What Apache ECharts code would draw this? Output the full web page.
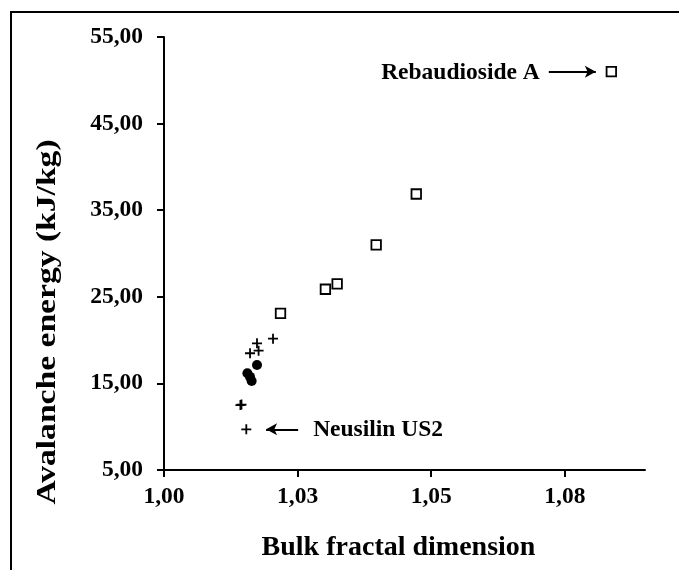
<!DOCTYPE html>
<html>
<head>
<meta charset="utf-8">
<script src="https://cdn.jsdelivr.net/npm/echarts@6/dist/echarts.min.js"></script>
<style>
  html, body { margin: 0; padding: 0; background: #fff; }
  #chart { width: 679px; height: 570px; }
</style>
</head>
<body>
<div id="chart"></div>
<script>
// Open squares: bulk fractal dimension vs avalanche energy
const squareX = [1.0837, 1.0472, 1.0397, 1.0324, 1.0302, 1.0218];
const squareY = [51.0, 36.87, 31.0, 26.5, 25.87, 23.09];

// Plus markers
const plusX = [1.0204, 1.0174, 1.0177, 1.0161, 1.0143, 1.0145, 1.0154];
const plusY = [20.16, 19.63, 18.78, 18.48, 12.50, 12.55, 9.70];

// Filled circles
const circleX = [1.0174, 1.0156, 1.0161, 1.0164];
const circleY = [17.12, 16.17, 15.75, 15.28];

// Axis tick values and their printed labels
const xTickValues = [1.0, 1.025, 1.05, 1.075];
const xTickLabels = ['1,00', '1,03', '1,05', '1,08'];

// Axis titles
const xTitle = 'Bulk fractal dimension';
const yTitle = 'Avalanche energy (kJ/kg)';

// Callouts: label, arrow tail [x, y], arrow head [x, y]
const calloutRebA = { text: 'Rebaudioside A', tail: [1.0720, 51.0], head: [1.0808, 51.0] };
const calloutNeus = { text: 'Neusilin US2', tail: [1.0251, 9.70], head: [1.0191, 9.70] };

const zip = (xs, ys) => xs.map((x, i) => [x, ys[i]]);
const FONT = '"Liberation Serif", "Times New Roman", serif';

const chart = echarts.init(document.getElementById('chart'), null, { renderer: 'canvas' });

const arrowLine = (c) => [
  { coord: c.tail, symbol: 'none' },
  { coord: c.head, symbol: 'arrow' }
];

chart.setOption({
  backgroundColor: '#fff',
  animation: false,
  grid: { left: 164, top: 37, right: 34, bottom: 100 },
  xAxis: {
    type: 'value',
    min: 1.0,
    max: 1.09,
    splitLine: { show: false },
    axisLine: { lineStyle: { color: '#000', width: 2 } },
    axisTick: { customValues: xTickValues, length: 7, lineStyle: { color: '#000', width: 2 } },
    axisLabel: {
      customValues: xTickValues,
      margin: 15,
      color: '#000',
      fontFamily: FONT,
      fontWeight: 'bold',
      fontSize: 23.5,
      formatter: (v) => {
        const i = xTickValues.findIndex(t => Math.abs(t - v) < 1e-6);
        return i >= 0 ? xTickLabels[i] : '';
      }
    },
    name: xTitle,
    nameLocation: 'middle',
    nameGap: 64,
    nameTextStyle: { color: '#000', fontFamily: FONT, fontWeight: 'bold', fontSize: 28, padding: [0, 12, 0, 0] }
  },
  yAxis: {
    type: 'value',
    min: 5,
    max: 55,
    interval: 10,
    splitLine: { show: false },
    axisLine: { show: true, lineStyle: { color: '#000', width: 2 } },
    axisTick: { show: true, length: 7, lineStyle: { color: '#000', width: 2 } },
    axisLabel: {
      margin: 21,
      color: '#000',
      fontFamily: FONT,
      fontWeight: 'bold',
      fontSize: 23.5,
      formatter: (v) => v.toFixed(2).replace('.', ',')
    }
  },
  series: [
    {
      name: 'squares',
      type: 'scatter',
      data: zip(squareX, squareY),
      symbol: 'rect',
      symbolSize: 9.5,
      itemStyle: { color: '#fff', borderColor: '#000', borderWidth: 1.8, opacity: 1 },
      markLine: {
        silent: true,
        symbolSize: [9, 11],
        lineStyle: { color: '#000', width: 2, type: 'solid' },
        label: { show: false },
        data: [arrowLine(calloutRebA)]
      }
    },
    {
      name: 'plus',
      type: 'scatter',
      data: zip(plusX, plusY),
      symbol: 'path://M4.1,0H5.9V4.1H10V5.9H5.9V10H4.1V5.9H0V4.1H4.1Z',
      symbolSize: 10,
      itemStyle: { color: '#000', opacity: 1 },
      markLine: {
        silent: true,
        symbolSize: [9, 11],
        lineStyle: { color: '#000', width: 2, type: 'solid' },
        label: { show: false },
        data: [arrowLine(calloutNeus)]
      }
    },
    {
      name: 'circles',
      type: 'scatter',
      data: zip(circleX, circleY),
      symbol: 'circle',
      symbolSize: 10,
      itemStyle: { color: '#000', opacity: 1 }
    }
  ]
});

// Frame, vertical title and callout labels (placed through the chart's coordinate system)
function placeExtras() {
  const a = chart.convertToPixel({ gridIndex: 0 }, calloutRebA.tail);
  const b = chart.convertToPixel({ gridIndex: 0 }, calloutNeus.tail);
  chart.setOption({
    graphic: [
      {
        type: 'rect',
        shape: { x: 11, y: 12, width: 720, height: 620 },
        style: { fill: 'none', stroke: '#000', lineWidth: 2 },
        silent: true
      },
      {
        type: 'text',
        x: 48,
        y: 322,
        rotation: Math.PI / 2,
        scaleX: 1.2,
        style: {
          text: yTitle, fill: '#000', font: 'bold 28px ' + FONT,
          align: 'center', verticalAlign: 'middle'
        }
      },
      {
        type: 'text',
        x: a[0] - 9,
        y: a[1] + 1,
        style: {
          text: calloutRebA.text, fill: '#000', font: 'bold 23.5px ' + FONT,
          align: 'right', verticalAlign: 'middle'
        }
      },
      {
        type: 'text',
        x: b[0] + 15,
        y: b[1] + 1,
        style: {
          text: calloutNeus.text, fill: '#000', font: 'bold 23.5px ' + FONT,
          align: 'left', verticalAlign: 'middle'
        }
      }
    ]
  });
}
placeExtras();
</script>
</body>
</html>
